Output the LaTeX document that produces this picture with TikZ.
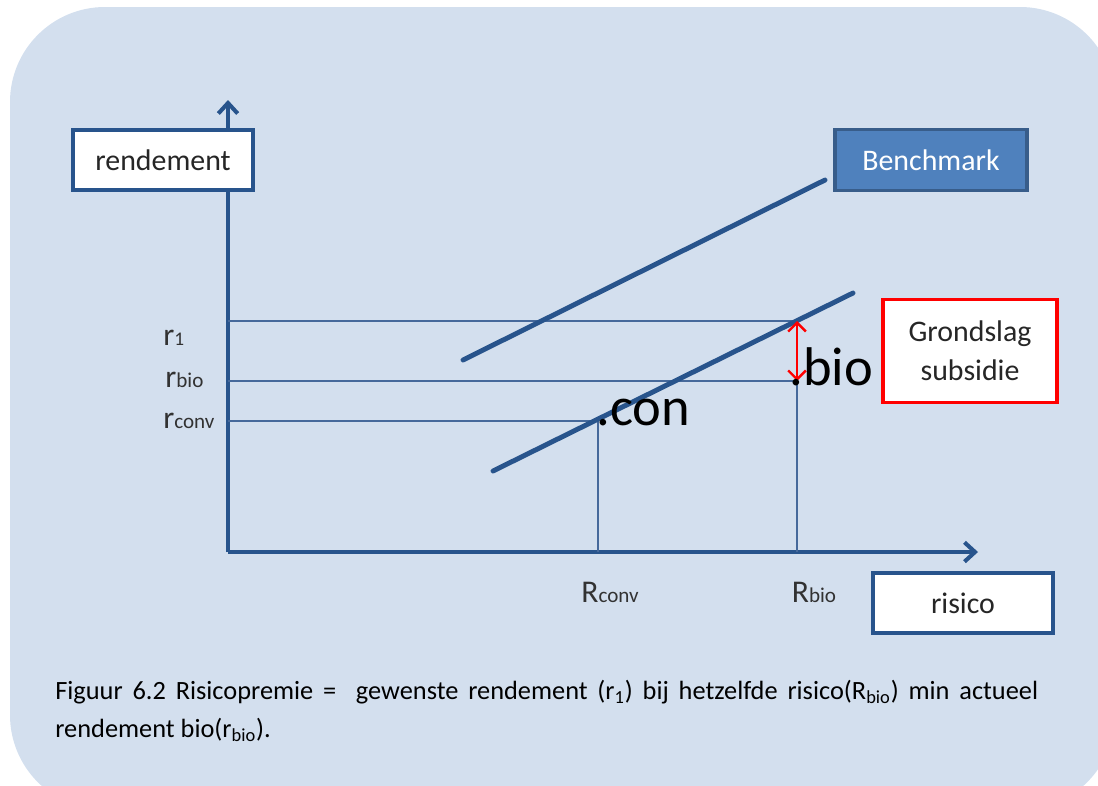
\documentclass[tikz,border=0pt]{standalone}
\usepackage{fontspec}
\setmainfont{Carlito}
\usetikzlibrary{arrows.meta}
\definecolor{bgblue}{RGB}{211,223,238}
\definecolor{axblue}{RGB}{40,84,140}
\definecolor{thinblue}{RGB}{70,105,155}
\definecolor{bmfill}{RGB}{79,129,189}
\definecolor{bmdraw}{RGB}{56,93,138}
\definecolor{labgrey}{RGB}{50,50,50}
\tikzset{
  axis/.style={axblue, line width=2.3pt, -{Straight Barb[length=6pt,width=11pt,line width=2.3pt]}},
  diag/.style={axblue, line width=2.8pt, line cap=round},
  guide/.style={thinblue, line width=0.7pt},
  whitebox/.style={draw=axblue, fill=white, line width=1.8pt, minimum width=3.6cm, minimum height=1.2cm, inner sep=0pt, font=\fontsize{17}{20}\selectfont, text=black!85},
  bmbox/.style={draw=bmdraw, fill=bmfill, line width=1.8pt, minimum width=3.84cm, minimum height=1.22cm, inner sep=0pt, font=\fontsize{17}{20}\selectfont, text=white},
  redbox/.style={draw=red, fill=white, line width=1.8pt, minimum width=3.48cm, minimum height=2.06cm, inner sep=0pt, align=center, font=\fontsize{17}{22}\selectfont, text=black!85},
  bigtxt/.style={font=\fontsize{31}{31}\selectfont, inner sep=0pt, anchor=base west},
  ylab/.style={font=\fontsize{18}{18}\selectfont, text=labgrey, inner sep=0pt, anchor=base west},
  xlab/.style={font=\fontsize{18}{18}\selectfont, text=labgrey, inner sep=0pt, anchor=base},
  redarrow/.style={red, line width=1.4pt, {Straight Barb[length=5pt,width=10pt,line width=1.4pt]}-{Straight Barb[length=5pt,width=10pt,line width=1.4pt]}}
}
\begin{document}
\begin{tikzpicture}[x=0.02cm,y=-0.02cm]
\useasboundingbox (0,0) rectangle (1098,785);
\fill[bgblue, rounded corners=1.9cm] (10,7) rectangle (1115,810);

% axes
\coordinate (O) at (228,552);
\coordinate (ytip) at (228,100);
\coordinate (xtip) at (978,552);
\draw[axis] (O) -- (ytip);
\draw[axis] (O) -- (xtip);

% diagonal lines
\coordinate (b1) at (463,360);
\coordinate (b2) at (825,180);
\coordinate (l1) at (493,471);
\coordinate (l2) at (853,293);
\coordinate (Pbio) at (797,321);
\coordinate (Qbio) at (797,381);
\coordinate (Pcon) at (598,421);
\coordinate (y1) at (228,321);
\coordinate (ybio) at (228,381);
\coordinate (yconv) at (228,421);
\coordinate (xconv) at (598,552);
\coordinate (xbio) at (797,552);

\draw[guide] (y1) -- (Pbio);
\draw[guide] (ybio) -- (Qbio);
\draw[guide] (yconv) -- (Pcon);
\draw[guide] (Pcon) -- (xconv);
\draw[guide] (Pbio) -- (xbio);

\draw[diag] (b1) -- (b2);
\draw[diag] (l1) -- (l2);

\draw[redarrow] (Pbio) -- (Qbio);

% boxes
\node[whitebox] (rend) at (163,160) {rendement};
\node[bmbox] (bench) at (931,160) {Benchmark};
\node[redbox] (grond) at (970,351) {Grondslag\\subsidie};
\node[whitebox] (risico) at (963,603) {risico};

% big labels
\node[bigtxt] (con) at (596,425) {.con};
\node[bigtxt] (bio) at (789,385) {.bio};

% axis labels
\node[ylab] (lr1) at (163,345) {r{\fontsize{11}{11}\selectfont 1}};
\node[ylab] (lrbio) at (165,387) {r{\fontsize{12}{12}\selectfont bio}};
\node[ylab] (lrconv) at (163,428) {r{\fontsize{12}{12}\selectfont conv}};
\node[xlab] (lRconv) at (610,602) {R{\fontsize{12}{12}\selectfont conv}};
\node[xlab] (lRbio) at (814,602) {R{\fontsize{12}{12}\selectfont bio}};

% caption
\node[anchor=north west, text width=19.66cm, align=justify, inner sep=0pt, font=\fontsize{15}{21.5}\selectfont] (cap) at (55,680)
{Figuur 6.2 Risicopremie =\ \ gewenste rendement (r\textsubscript{1}) bij hetzelfde risico(R\textsubscript{bio}) min actueel\linebreak rendement bio(r\textsubscript{bio}).};
\end{tikzpicture}
\end{document}
